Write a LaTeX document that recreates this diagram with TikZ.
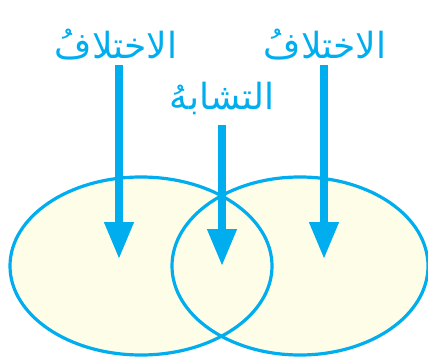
\documentclass[tikz,border=0pt]{standalone}
\usepackage{fontspec}
\usetikzlibrary{arrows.meta,shapes.geometric}
\TeXXeTstate=1
\newfontfamily\arabicfont[Script=Arabic]{DejaVu Sans}
\definecolor{vcyan}{HTML}{00AEEF}
\definecolor{vfill}{HTML}{FEFDE8}
\tikzset{
  setshape/.style={ellipse, inner sep=0pt, minimum width=#1},
  setfill/.style={fill=vfill, draw=none},
  setline/.style={draw=vcyan, line width=3.2pt},
  lbl/.style={text=vcyan, font=\arabicfont\fontsize{36}{40}\selectfont, anchor=base, inner sep=0pt},
  bigarrow/.style={draw=vcyan, line width=7.5pt, -{Triangle[length=37pt,width=28pt]}}
}
\begin{document}
\begin{tikzpicture}[x=1pt,y=-1pt]
\useasboundingbox (0,0) rectangle (428,358);
% ellipses
\node[setshape=262pt, minimum height=178pt, setfill] (L) at (141,266) {};
\node[setshape=256pt, minimum height=178pt, setfill] (R) at (300,266) {};
\draw[setline] (141,266) ellipse [x radius=131, y radius=89];
\draw[setline] (300,266) ellipse [x radius=128, y radius=89];
% labels
\node[lbl] (tl) at (116,59) {\beginR الاختلافُ\endR};
\node[lbl] (tr) at (325,59) {\beginR الاختلافُ\endR};
\node[lbl] (tm) at (222,110) {\beginR التشابهُ\endR};
% arrows
\coordinate (a1) at (119,65);
\coordinate (b1) at (119,259);
\coordinate (a2) at (222,125);
\coordinate (b2) at (222,266);
\coordinate (a3) at (324,65);
\coordinate (b3) at (324,259);
\draw[bigarrow] (a1) -- (b1);
\draw[bigarrow] (a2) -- (b2);
\draw[bigarrow] (a3) -- (b3);
\end{tikzpicture}
\end{document}
